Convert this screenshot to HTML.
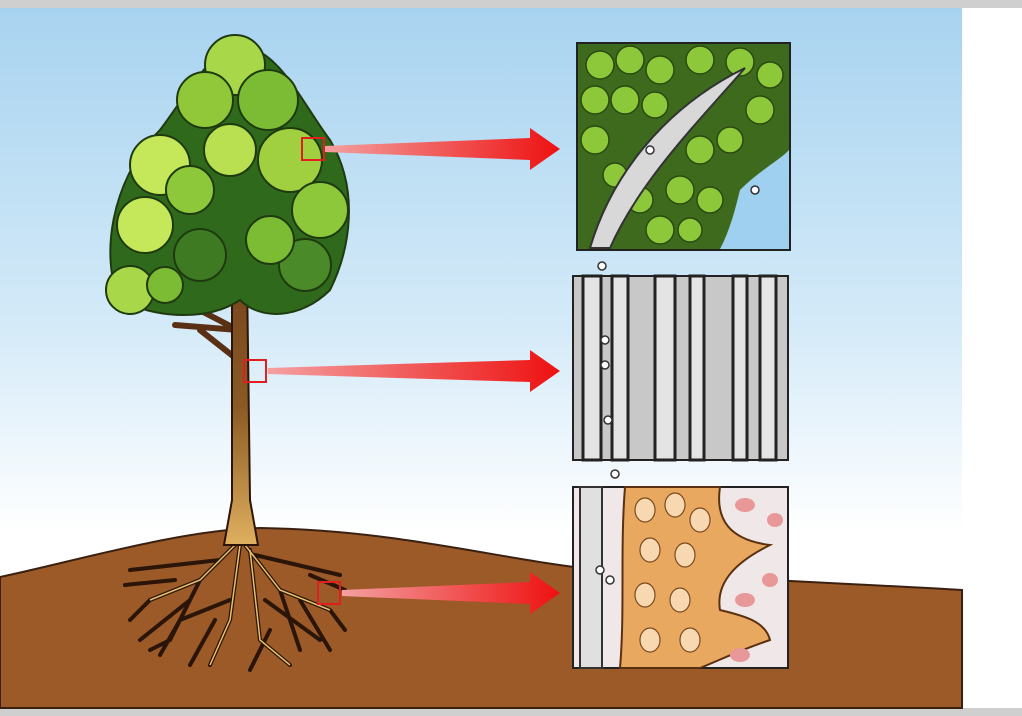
<!DOCTYPE html>
<html><head><meta charset="utf-8"><style>
html,body{margin:0;padding:0;width:1022px;height:716px;overflow:hidden;background:#fff}
</style></head><body>
<svg width="1022" height="716" viewBox="0 0 1022 716" xmlns="http://www.w3.org/2000/svg">
<defs>
<linearGradient id="sky" x1="0" y1="0" x2="0" y2="1">
<stop offset="0" stop-color="#a8d3f0"/><stop offset="0.45" stop-color="#d4eaf8"/><stop offset="0.75" stop-color="#ffffff"/></linearGradient>
<linearGradient id="ar" x1="0" y1="0" x2="1" y2="0"><stop offset="0" stop-color="#f4a0a0"/><stop offset="1" stop-color="#ee1111"/></linearGradient>
<linearGradient id="tr" x1="0" y1="0" x2="0" y2="1"><stop offset="0" stop-color="#6b3a1a"/><stop offset="0.6" stop-color="#8a5a24"/><stop offset="1" stop-color="#e0b060"/></linearGradient>
</defs>
<rect width="1022" height="716" fill="#fff"/>
<rect x="0" y="8" width="962" height="700" fill="url(#sky)"/>
<rect x="0" y="0" width="1022" height="8" fill="#cfcfcf"/>
<rect x="0" y="708" width="1022" height="8" fill="#cfcfcf"/>
<!-- ground -->
<path d="M0 577 C80 560 180 530 260 528 C400 530 500 560 600 570 C750 580 880 585 962 590 L962 708 L0 708 Z" fill="#9b5a28" stroke="#3a2010" stroke-width="2"/>
<!-- roots -->
<g stroke="#2a1508" stroke-width="4" fill="none" stroke-linecap="round">
<path d="M240 540 L200 580 L150 600 L130 620 M200 580 L170 640 L150 650 M240 545 L230 620 L210 665 M245 545 L280 590 L330 610 L345 630 M280 590 L300 650 M250 550 L260 640 L290 665 M220 560 L130 570 M255 555 L340 575 M230 600 L180 620 L160 655 M265 600 L320 640 M190 600 L140 640 M300 600 L330 650 M215 620 L190 665 M270 630 L250 670 M175 580 L125 585 M310 575 L345 590"/>
</g>
<g stroke="#e8c070" stroke-width="1.5" fill="none">
<path d="M240 540 L200 580 L150 600 M240 545 L230 620 L210 665 M245 545 L280 590 L330 610 M250 550 L260 640 L290 665"/>
</g>
<!-- branches -->
<g stroke="#5a3015" stroke-width="6" fill="none" stroke-linecap="round">
<path d="M238 330 L180 300 L140 290 M240 300 L300 280 L330 260 M238 260 L190 220 M240 240 L280 200 M238 360 L200 330 M238 330 L175 325"/>
</g>
<!-- trunk -->
<path d="M232 200 L246 200 L250 500 L258 545 L224 545 L232 500 Z" fill="url(#tr)" stroke="#2a1508" stroke-width="2"/>
<!-- canopy -->
<g stroke="#1f3a10" stroke-width="2">
<path d="M160 130 C190 90 210 50 240 45 C280 50 300 100 330 140 C360 190 350 250 330 290 C300 320 260 320 240 300 C210 320 160 320 120 300 C100 260 110 180 160 130Z" fill="#2f6a1c"/>
<circle cx="235" cy="65" r="30" fill="#a8d84a"/>
<circle cx="205" cy="100" r="28" fill="#90c83a"/>
<circle cx="268" cy="100" r="30" fill="#7cbc34"/>
<circle cx="160" cy="165" r="30" fill="#c4e85a"/>
<circle cx="290" cy="160" r="32" fill="#a0d040"/>
<circle cx="320" cy="210" r="28" fill="#8cc83a"/>
<circle cx="145" cy="225" r="28" fill="#c4e85a"/>
<circle cx="130" cy="290" r="24" fill="#a8d84a"/>
<circle cx="305" cy="265" r="26" fill="#4a8a28"/>
<circle cx="270" cy="240" r="24" fill="#7cbc34"/>
<circle cx="200" cy="255" r="26" fill="#3d7a22"/>
<circle cx="230" cy="150" r="26" fill="#b8e050"/>
<circle cx="190" cy="190" r="24" fill="#8cc83a"/>
<circle cx="165" cy="285" r="18" fill="#7cbc34"/>
</g>
<!-- marker boxes -->
<g fill="none" stroke="#e02020" stroke-width="2">
<rect x="302" y="138" width="22" height="22"/><rect x="244" y="360" width="22" height="22"/><rect x="318" y="582" width="22" height="22"/>
</g>
<!-- arrows -->
<path d="M325 146 L530 138 L530 128 L560 149 L530 170 L530 160 L325 152 Z" fill="url(#ar)"/>
<path d="M268 368 L530 360 L530 350 L560 371 L530 392 L530 382 L268 374 Z" fill="url(#ar)"/>
<path d="M342 590 L530 582 L530 572 L560 593 L530 614 L530 604 L342 596 Z" fill="url(#ar)"/>
<!-- panel 1 -->
<rect x="577" y="43" width="213" height="207" fill="#3d6a1c" stroke="#222" stroke-width="2"/>
<g fill="#8cc83a" stroke="#2a4a10" stroke-width="1.5">
<circle cx="600" cy="65" r="14"/><circle cx="630" cy="60" r="14"/><circle cx="660" cy="70" r="14"/><circle cx="700" cy="60" r="14"/><circle cx="740" cy="62" r="14"/><circle cx="770" cy="75" r="13"/>
<circle cx="595" cy="100" r="14"/><circle cx="625" cy="100" r="14"/><circle cx="655" cy="105" r="13"/><circle cx="760" cy="110" r="14"/><circle cx="595" cy="140" r="14"/><circle cx="615" cy="175" r="12"/>
<circle cx="700" cy="150" r="14"/><circle cx="730" cy="140" r="13"/><circle cx="680" cy="190" r="14"/><circle cx="660" cy="230" r="14"/><circle cx="710" cy="200" r="13"/><circle cx="640" cy="200" r="13"/><circle cx="690" cy="230" r="12"/>
</g>
<path d="M740 190 C760 170 780 160 789 150 L789 249 L720 249 C730 230 735 210 740 190Z" fill="#9fd0f0"/>
<path d="M590 248 C610 180 660 110 745 68 C700 120 640 180 610 248 Z" fill="#d8d8d8" stroke="#333" stroke-width="2"/>
<!-- panel 2 -->
<rect x="573" y="276" width="215" height="184" fill="#c8c8c8" stroke="#222" stroke-width="2"/>
<g fill="#e4e4e4" stroke="#222" stroke-width="3">
<rect x="583" y="276" width="18" height="184"/><rect x="612" y="276" width="16" height="184"/><rect x="655" y="276" width="20" height="184"/><rect x="690" y="276" width="14" height="184"/><rect x="733" y="276" width="14" height="184"/><rect x="760" y="276" width="16" height="184"/>
</g>
<!-- panel 3 -->
<rect x="573" y="487" width="215" height="181" fill="#f0e8e8" stroke="#222" stroke-width="2"/>
<path d="M625 487 L720 487 C715 520 730 540 770 545 C740 560 715 580 720 610 C740 615 765 620 770 640 C740 650 720 660 700 668 L620 668 C625 610 620 550 625 487Z" fill="#e8a860" stroke="#5a3010" stroke-width="2"/>
<g fill="#f8d8b0" stroke="#7a4a20" stroke-width="1.2">
<ellipse cx="645" cy="510" rx="10" ry="12"/><ellipse cx="675" cy="505" rx="10" ry="12"/><ellipse cx="700" cy="520" rx="10" ry="12"/><ellipse cx="650" cy="550" rx="10" ry="12"/><ellipse cx="685" cy="555" rx="10" ry="12"/><ellipse cx="645" cy="595" rx="10" ry="12"/><ellipse cx="680" cy="600" rx="10" ry="12"/><ellipse cx="650" cy="640" rx="10" ry="12"/><ellipse cx="690" cy="640" rx="10" ry="12"/>
</g>
<g fill="#e89898"><ellipse cx="745" cy="505" rx="10" ry="7"/><ellipse cx="775" cy="520" rx="8" ry="7"/><ellipse cx="745" cy="600" rx="10" ry="7"/><ellipse cx="770" cy="580" rx="8" ry="7"/><ellipse cx="740" cy="655" rx="10" ry="7"/></g>
<rect x="580" y="487" width="22" height="181" fill="#e0e0e0" stroke="#333" stroke-width="2"/>
<!-- bubbles -->
<g fill="#fff" stroke="#333" stroke-width="1.5">
<circle cx="602" cy="266" r="4"/><circle cx="615" cy="474" r="4"/><circle cx="605" cy="340" r="4"/><circle cx="608" cy="420" r="4"/><circle cx="600" cy="570" r="4"/><circle cx="650" cy="150" r="4"/><circle cx="755" cy="190" r="4"/><circle cx="605" cy="365" r="4"/><circle cx="610" cy="580" r="4"/>
</g>
</svg>
</body></html>
